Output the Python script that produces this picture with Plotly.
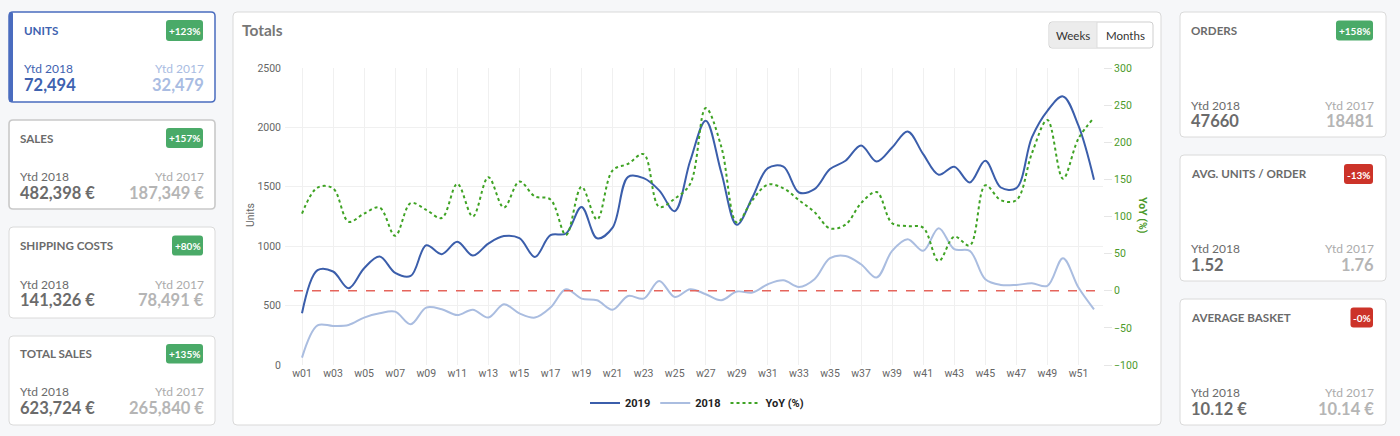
import plotly.graph_objects as go

W, H = 1400, 436

# ---------------- data ----------------
weeks = [f"w{i:02d}" for i in range(1, 53)]
units_2019 = [435, 798, 787, 646, 815, 913, 775, 750, 1008, 933,
              1037, 921, 1022, 1085, 1068, 910, 1093, 1107, 1331, 1067,
              1157, 1584, 1573, 1470, 1295, 1719, 2056, 1620, 1180, 1410,
              1657, 1669, 1452, 1480, 1649, 1719, 1848, 1713, 1831, 1966,
              1775, 1601, 1669, 1537, 1719, 1494, 1489, 1916, 2140, 2261, 2014, 1559]
units_2018 = [62, 334, 329, 337, 399, 435, 449, 343, 483, 469,
              421, 466, 399, 511, 435, 399, 483, 638, 559, 545,
              466, 581, 559, 708, 573, 638, 596, 545, 618, 610,
              680, 713, 657, 722, 899, 918, 848, 736, 961, 1059,
              961, 1152, 975, 961, 722, 674, 674, 688, 666, 899, 652, 469]
yoy_pct = [104, 139, 138, 93, 104, 112, 74, 118, 109, 98,
           144, 100, 153, 112, 147, 127, 123, 75, 140, 96,
           162, 171, 184, 113, 124, 144, 246, 194, 92, 122,
           143, 138, 122, 106, 84, 89, 118, 133, 91, 87,
           85, 40, 73, 61, 142, 122, 122, 185, 230, 151, 205, 233]

card_titles = ["UNITS", "SALES", "SHIPPING COSTS", "TOTAL SALES",
               "ORDERS", "AVG. UNITS / ORDER", "AVERAGE BASKET"]
card_badges = ["+123%", "+157%", "+80%", "+135%", "+158%", "-13%", "-0%"]
card_ytd2018 = ["72,494", "482,398 €", "141,326 €", "623,724 €", "47660", "1.52", "10.12 €"]
card_ytd2017 = ["32,479", "187,349 €", "78,491 €", "265,840 €", "18481", "1.76", "10.14 €"]

# ---------------- helpers ----------------
def X(x):
    return x / W

def Y(y):
    return 1 - y / H

def rrect_path(x0, y0, x1, y1, r):
    return (f"M {X(x0+r)},{Y(y0)} L {X(x1-r)},{Y(y0)} Q {X(x1)},{Y(y0)} {X(x1)},{Y(y0+r)} "
            f"L {X(x1)},{Y(y1-r)} Q {X(x1)},{Y(y1)} {X(x1-r)},{Y(y1)} "
            f"L {X(x0+r)},{Y(y1)} Q {X(x0)},{Y(y1)} {X(x0)},{Y(y1-r)} "
            f"L {X(x0)},{Y(y0+r)} Q {X(x0)},{Y(y0)} {X(x0+r)},{Y(y0)} Z")

shapes = []
annotations = []

def card(x0, y0, x1, y1, line="#d9d9d9", lw=1):
    shapes.append(dict(type="path", xref="paper", yref="paper", path=rrect_path(x0, y0, x1, y1, 4),
                       fillcolor="white", line=dict(color=line, width=lw), layer="below"))

def text(x, y, s, size, color, anchor="left", bold=False, family="Lato", angle=0):
    annotations.append(dict(xref="paper", yref="paper", x=X(x), y=Y(y), text=(f"<b>{s}</b>" if bold else s),
                            showarrow=False, xanchor=anchor, yanchor="middle", textangle=angle,
                            borderpad=0,
                            font=dict(size=size, color=color, family=family)))

def badge(x0, y0, x1, y1, s, color):
    shapes.append(dict(type="path", xref="paper", yref="paper", path=rrect_path(x0, y0, x1, y1, 3),
                       fillcolor=color, line=dict(width=0), layer="below"))
    text((x0 + x1) / 2, (y0 + y1) / 2 + 0.5, s, 10, "white", anchor="center", bold=True)

GREEN = "#4aaa68"
RED = "#cc3329"

# card layout: (x0, y0, x1, y1, title_y, badge box, ytd_y, val_y, text_left, text_right)
cards = [
    (9, 12, 215, 102, 30, (166, 20, 203, 41), 68.5, 84.5, 23, 205),
    (9, 120, 215, 209, 138, (166, 128, 203, 148), 176.5, 192.5, 19, 205),
    (9, 227, 215, 318, 245.5, (172, 235.5, 203, 255.5), 284, 300, 19, 205),
    (9, 336, 215, 425, 353.5, (166, 344, 203, 363.5), 391.5, 407.5, 19, 205),
    (1180, 12, 1386, 137, 30, (1336, 20.5, 1373, 40.5), 105, 121, 1190, 1375),
    (1180, 155, 1386, 281, 173.5, (1344, 164, 1373, 184), 248.5, 265, 1190, 1375),
    (1180, 299, 1386, 425, 317.5, (1350.5, 307.5, 1373, 327.5), 392, 408.5, 1190, 1375),
]

for i, (x0, y0, x1, y1, ty, bb, yy, vy, tl, tr) in enumerate(cards):
    if i == 0:
        card(x0, y0, x1, y1, line="#4a6cbf", lw=1.5)
        shapes.append(dict(type="path", xref="paper", yref="paper",
                           path=rrect_path(x0, y0, x0 + 4, y1, 1.5), fillcolor="#4a6cbf",
                           line=dict(width=0), layer="below"))
        c_title, c_l, c_lv, c_r, c_rv = "#3e62b0", "#3e62b0", "#3e62b0", "#a9bce2", "#a9bce2"
    else:
        card(x0, y0, x1, y1, line=("#c9c9c9" if i == 1 else "#dadada"), lw=(1.6 if i == 1 else 1))
        c_title, c_l, c_lv, c_r, c_rv = "#6b6b6b", "#6b6b6b", "#6b6b6b", "#ababab", "#b5b5b5"
    text(tl, ty, card_titles[i], 11.6, c_title, bold=True)
    badge(*bb, card_badges[i], GREEN if card_badges[i].startswith("+") else RED)
    text(tl, yy, "Ytd 2018", 12, c_l)
    text(tl, vy, card_ytd2018[i], 16.5, c_lv, bold=True)
    text(tr, yy, "Ytd 2017", 12, c_r, anchor="right")
    text(tr, vy, card_ytd2017[i], 16.5, c_rv, anchor="right", bold=True)

# chart card
card(233, 12, 1161, 425)
text(241, 30, "Totals", 15.5, "#777777", bold=True)

# Weeks / Months button group
shapes.append(dict(type="path", xref="paper", yref="paper", path=rrect_path(1049, 22, 1153, 48, 3),
                   fillcolor="white", line=dict(color="#cfcfcf", width=1), layer="below"))
shapes.append(dict(type="path", xref="paper", yref="paper",
                   path=(f"M {X(1052)},{Y(22.5)} L {X(1097)},{Y(22.5)} L {X(1097)},{Y(47.5)} "
                         f"L {X(1052)},{Y(47.5)} Q {X(1049.5)},{Y(47.5)} {X(1049.5)},{Y(45)} "
                         f"L {X(1049.5)},{Y(25)} Q {X(1049.5)},{Y(22.5)} {X(1052)},{Y(22.5)} Z"),
                   fillcolor="#ececec", line=dict(width=0), layer="below"))
shapes.append(dict(type="line", xref="paper", yref="paper", x0=X(1097), x1=X(1097), y0=Y(22), y1=Y(48),
                   line=dict(color="#dddddd", width=1), layer="below"))
text(1073, 35.5, "Weeks", 11.5, "#333333", anchor="center")
text(1125, 35.5, "Months", 11.5, "#333333", anchor="center")

# axis titles
text(250, 215, "Units", 10.5, "#666666", anchor="center", family="Roboto", angle=-90)
text(1143, 215, "<b>YoY (%)</b>", 10.5, "#4c9a2a", anchor="center", family="Roboto", angle=90)

# zero line for YoY
plot_l, plot_r, plot_t, plot_b = 285, 1103, 68, 365
shapes.append(dict(type="line", xref="paper", yref="y2", x0=X(294), x1=X(plot_r), y0=0, y1=0,
                   line=dict(color="#e5655c", width=1.3, dash="dash"), layer="above"))

fig = go.Figure()
fig.add_trace(go.Scatter(x=weeks, y=units_2019, name="2019", mode="lines",
                         line=dict(color="#3b5eab", width=2, shape="spline", smoothing=1)))
fig.add_trace(go.Scatter(x=weeks, y=units_2018, name="2018", mode="lines",
                         line=dict(color="#aabde0", width=2, shape="spline", smoothing=1)))
fig.add_trace(go.Scatter(x=weeks, y=yoy_pct, name="YoY (%)", mode="lines", yaxis="y2",
                         line=dict(color="#3fa324", width=2, dash="dot", shape="spline", smoothing=1)))

step = (1094 - 302) / 51.0
x_lo = -(302 - plot_l) / step
x_hi = 51 + (plot_r - 1094) / step

fig.update_layout(
    width=W, height=H, autosize=False,
    margin=dict(l=0, r=0, t=0, b=0, pad=0, autoexpand=False),
    paper_bgcolor="#f6f7f9", plot_bgcolor="rgba(0,0,0,0)",
    shapes=shapes, annotations=annotations,
    xaxis=dict(domain=[X(plot_l), X(plot_r)], type="category", range=[x_lo, x_hi],
               dtick=2, tick0=0, showgrid=True, gridcolor="#f0f0f0", gridwidth=1,
               zeroline=False, showline=False, ticks="", automargin=False,
               tickfont=dict(family="Roboto", size=10.5, color="#666666")),
    yaxis=dict(domain=[Y(plot_b), Y(plot_t)], range=[0, 2500], dtick=500,
               showgrid=True, gridcolor="#f0f0f0", zeroline=False, showline=False,
               ticks="", ticklabelstandoff=3, automargin=False,
               tickfont=dict(family="Roboto", size=10.5, color="#666666")),
    yaxis2=dict(overlaying="y", side="right", range=[-100, 300], dtick=50,
                showgrid=False, zeroline=False, showline=False, automargin=False,
                ticks="outside", ticklen=8, tickcolor="#e6e6e6",
                tickfont=dict(family="Roboto", size=10.5, color="#4c9a2a")),
    legend=dict(orientation="h", x=X(697), xanchor="center", y=Y(403), yanchor="middle",
                font=dict(family="Roboto", size=11, color="#222222", weight="bold"),
                bgcolor="rgba(0,0,0,0)", itemwidth=30),
    showlegend=True,
)

post = ("document.documentElement.style.margin='0';document.body.style.margin='0';"
        "document.body.style.overflow='hidden';document.documentElement.style.overflow='hidden';"
        "var g=document.getElementById('{plot_id}');g.style.position='absolute';"
        "g.style.left='0px';g.style.top='0px';")
fig.write_html("out.html", post_script=post, config={"displayModeBar": False})
